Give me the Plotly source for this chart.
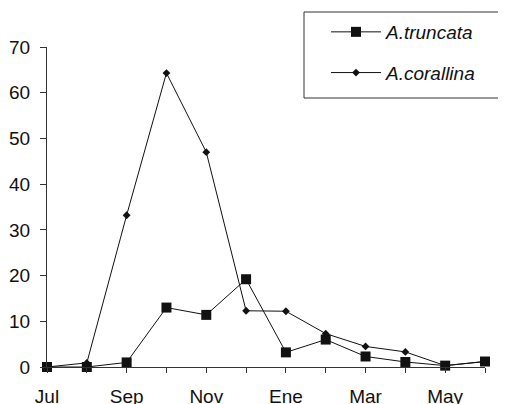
import plotly.graph_objects as go

months = ["Jul", "Ago", "Sep", "Oct", "Nov", "Dic", "Ene", "Feb", "Mar", "Abr", "May", "Jun"]
tick_labels = ["Jul", "", "Sep", "", "Nov", "", "Ene", "", "Mar", "", "May", ""]
truncata = [0, 0, 1.0, 13.0, 11.4, 19.2, 3.2, 6.0, 2.3, 1.1, 0.3, 1.2]
corallina = [0, 0.9, 33.2, 64.3, 47.0, 12.3, 12.2, 7.3, 4.5, 3.3, 0.3, 1.2]
y_ticks = [0, 10, 20, 30, 40, 50, 60, 70]

# the page body adds an 8px offset; figure is sized to fill the rest of the window
OFF = 8
W, H = 506 - OFF, 404 - OFF
ML, MT = 47 - OFF, 47 - OFF
MR = W - (485 - OFF)
MB = H - (367 - OFF)
FONT = "Liberation Sans, Arial, sans-serif"

xs = list(range(len(months)))

fig = go.Figure()
fig.add_trace(go.Scatter(
    x=xs, y=truncata, name="A.truncata", mode="lines+markers",
    line=dict(color="#111", width=1),
    marker=dict(symbol="square", size=10, color="#111"),
    cliponaxis=False, legendgroup="a",
))
fig.add_trace(go.Scatter(
    x=xs, y=corallina, name="A.corallina", mode="lines+markers",
    line=dict(color="#111", width=1),
    marker=dict(symbol="diamond", size=6, color="#111"),
    cliponaxis=False, legendgroup="b",
))

pw = W - ML - MR
ph = H - MT - MB
def px_x(p):  # screen px -> paper
    return (p - OFF - ML) / pw
def px_y(p):
    return (H - MB - (p - OFF)) / ph

# legend frame (runs past the right edge as in the reference)
fig.add_shape(type="rect", xref="paper", yref="paper",
              x0=px_x(304), x1=px_x(520), y0=px_y(98), y1=px_y(12),
              line=dict(color="#333", width=1), fillcolor="white", layer="below")

fig.update_layout(
    width=W, height=H,
    margin=dict(l=ML, r=MR, t=MT, b=MB, autoexpand=False),
    paper_bgcolor="white", plot_bgcolor="white",
    font=dict(family=FONT, size=19, color="#111"),
    showlegend=True,
    legend=dict(
        xref="container", yref="container",
        x=318 / W, y=1 - 5 / H, xanchor="left", yanchor="top",
        font=dict(family=FONT, size=19, style="italic", color="#111"),
        bgcolor="rgba(0,0,0,0)", borderwidth=0,
        tracegroupgap=13, traceorder="grouped", itemwidth=50,
    ),
    xaxis=dict(
        range=[0, 11], tickvals=xs, ticktext=tick_labels,
        showgrid=False, zeroline=False, showline=True, linecolor="#333", linewidth=1,
        ticks="outside", ticklen=5, tickcolor="#333", ticklabelstandoff=7,
        tickfont=dict(size=19, color="#111"),
    ),
    yaxis=dict(
        range=[0, 70], tickvals=y_ticks,
        showgrid=False, zeroline=False, showline=True, linecolor="#333", linewidth=1,
        ticks="outside", ticklen=6, tickcolor="#333", ticklabelstandoff=6,
        tickfont=dict(size=19, color="#111"),
    ),
)

fig.write_html("out.html")
